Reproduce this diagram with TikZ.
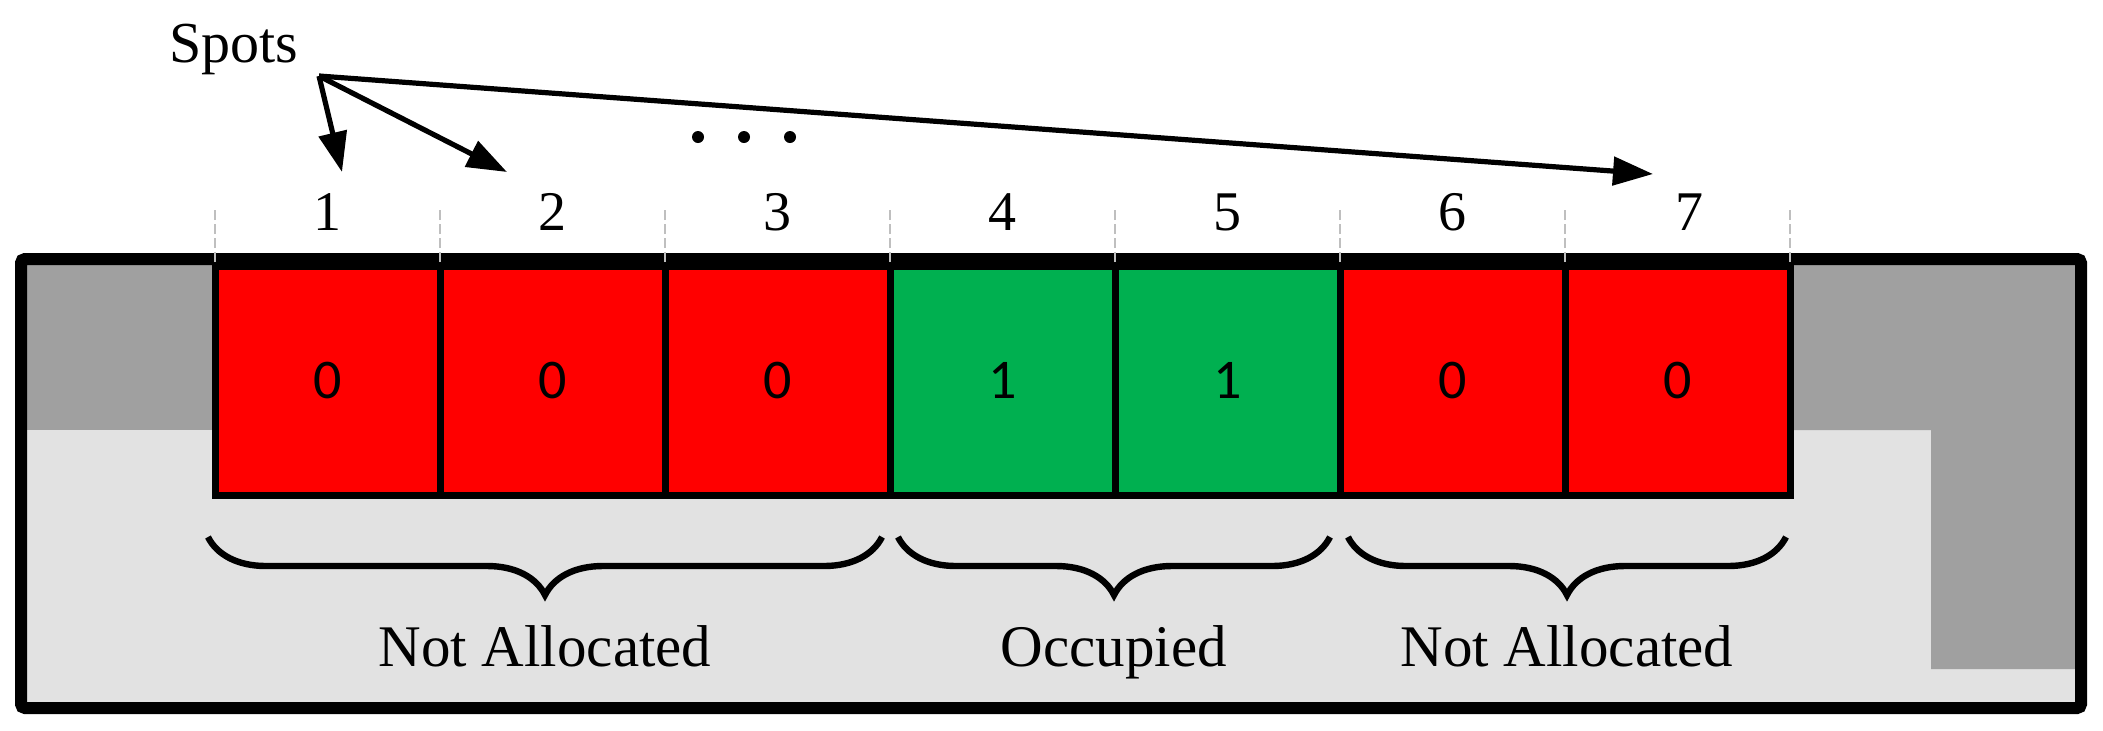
\documentclass[tikz,border=0pt]{standalone}
\usepackage{fontspec}
\setmainfont{Liberation Serif}
\newfontfamily\cellfont{Carlito}
\usetikzlibrary{arrows.meta,positioning,calc,decorations.pathreplacing}
\definecolor{free}{RGB}{255,0,0}
\definecolor{taken}{RGB}{0,176,80}
\definecolor{lgray}{RGB}{226,226,226}
\definecolor{dgray}{RGB}{160,160,160}
\definecolor{tgray}{RGB}{191,191,191}

\begin{document}
\begin{tikzpicture}[x=0.5pt, y=-0.5pt,
		every node/.style={font=\fontsize{29}{34}\selectfont},
		spot/.style={draw, line width=3.5pt, inner sep=0pt, outer sep=0pt, minimum width=112.5pt, minimum height=114.5pt, font=\cellfont\fontsize{28}{32}\selectfont},
		freespot/.style={spot, fill=free},
		takenspot/.style={spot, fill=taken},
		num/.style={inner sep=0pt, font=\fontsize{28}{32}\selectfont},
		tick/.style={tgray, line width=1.1pt, dash pattern=on 5pt off 2pt},
		arrow/.style={-{Triangle[length=20pt, width=14pt]}, line width=2.6pt},
		brc/.style={decorate, decoration={brace, mirror, amplitude=29pt}, line width=3.2pt},
		lbl/.style={anchor=base, font=\fontsize{29.5}{36}\selectfont}
	]
		\useasboundingbox (0,0) rectangle (2103,730);

		% lot and its walls
		\fill[lgray] (21,259) rectangle (2081,708);
		\fill[dgray] (21,259) rectangle (215,430);
		\fill[dgray] (1790,259) -- (2081,259) -- (2081,669) -- (1931,669) -- (1931,430) -- (1790,430) -- cycle;
		\draw[line width=6pt, rounded corners=2pt] (21,259) rectangle (2081,708);

		% spots
		\node[freespot] (c1) at (327.5,380.5) {0};
		\node[freespot, right=0pt of c1] (c2) {0};
		\node[freespot, right=0pt of c2] (c3) {0};
		\node[takenspot, right=0pt of c3] (c4) {1};
		\node[takenspot, right=0pt of c4] (c5) {1};
		\node[freespot, right=0pt of c5] (c6) {0};
		\node[freespot, right=0pt of c6] (c7) {0};

		\foreach \c in {c1,c2,c3,c4,c5,c6,c7}
			\draw[tick] ([yshift=2pt]\c.north west) -- ([yshift=29.5pt]\c.north west);
		\draw[tick] ([yshift=2pt]c7.north east) -- ([yshift=29.5pt]c7.north east);

		% spot numbers
		\node[num] (n1) at ([yshift=27pt]c1.north) {1};
		\node[num] (n2) at ([yshift=27pt]c2.north) {2};
		\node[num] (n3) at ([yshift=27pt]c3.north) {3};
		\node[num] (n4) at ([yshift=27pt]c4.north) {4};
		\node[num] (n5) at ([yshift=27pt]c5.north) {5};
		\node[num] (n6) at ([yshift=27pt]c6.north) {6};
		\node[num] (n7) at ([xshift=6pt, yshift=27pt]c7.north) {7};

		\node[anchor=base] (spots) at (234,62) {Spots};
		\coordinate (hub) at (319,76);
		\coordinate (t1) at (342,172);
		\coordinate (t2) at (507,172);
		\coordinate (t7) at (1653,174);
		\draw[arrow] (hub) -- (t1);
		\draw[arrow] (hub) -- (t2);
		\draw[arrow] (hub) -- (t7);
		\fill (698,137) circle (3pt);
		\fill (744,137) circle (3pt);
		\fill (790,137) circle (3pt);

		% groups
		\draw[brc] ([xshift=-3.5pt, yshift=-21pt]c1.south west) -- ([xshift=-4pt, yshift=-21pt]c3.south east)
			node[lbl, midway, yshift=-64.5pt] (na1) {Not Allocated};
		\draw[brc] ([xshift=4pt, yshift=-21pt]c4.south west) -- ([xshift=-5pt, yshift=-21pt]c5.south east)
			node[lbl, midway, yshift=-64.5pt] (occ) {Occupied};
		\draw[brc] ([xshift=4pt, yshift=-21pt]c6.south west) -- ([xshift=-2pt, yshift=-21pt]c7.south east)
			node[lbl, midway, yshift=-64.5pt] (na2) {Not Allocated};
	\end{tikzpicture}
\end{document}
